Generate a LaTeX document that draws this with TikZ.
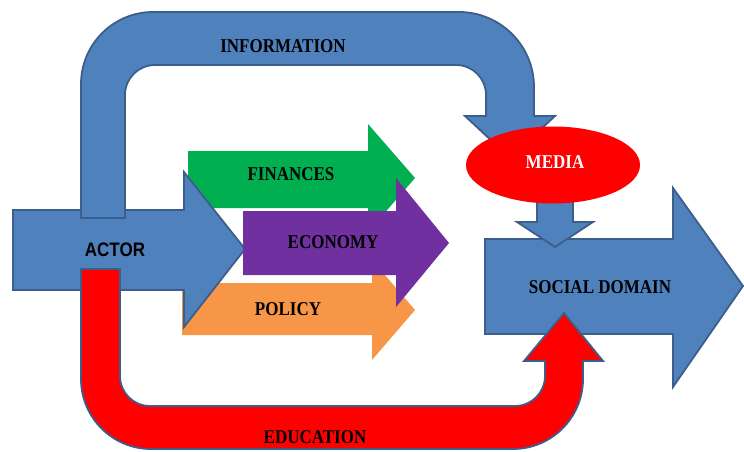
\documentclass[tikz,border=0pt]{standalone}
\usepackage{fontspec}
\setmainfont{Liberation Serif}
\newfontfamily\arialf{Liberation Sans}
\usetikzlibrary{shapes.geometric}
\definecolor{ofblue}{HTML}{4F81BD}
\definecolor{ofline}{HTML}{3B5E8C}
\definecolor{ofgreen}{HTML}{00B050}
\definecolor{ofpurple}{HTML}{7030A0}
\definecolor{oforange}{HTML}{F79646}
\definecolor{ofred}{HTML}{FF0000}
\newcommand{\stx}[1]{\scalebox{1}[1.15]{#1}}
\tikzset{
  bluearrow/.style={fill=ofblue, draw=ofline, line width=1.8pt, line join=miter},
  redarrow/.style={fill=ofred, draw=ofline, line width=1.8pt, line join=miter},
  lbl/.style={font=\bfseries\fontsize{17}{20}\selectfont, inner sep=0pt, text=black},
}
\begin{document}
\begin{tikzpicture}[x=1pt, y=-1pt]
\useasboundingbox (0,0) rectangle (744,452);
% finances (green)
\fill[ofgreen] (188,151) -- (368,151) -- (368,124) -- (415,178) -- (368,232) -- (368,208) -- (188,208) -- cycle;
% policy (orange)
\fill[oforange] (182,283) -- (372,283) -- (372,260) -- (415,310) -- (372,360) -- (372,335) -- (182,335) -- cycle;
% actor (blue)
\draw[bluearrow] (13,210) -- (184,210) -- (184,172) -- (245,249) -- (184,327) -- (184,290) -- (13,290) -- cycle;
% economy (purple)
\fill[ofpurple] (243,211) -- (396,211) -- (396,178) -- (449,243) -- (396,307) -- (396,275) -- (243,275) -- cycle;
% information (bent blue arrow)
\draw[bluearrow] (81,218) -- (81,84) .. controls (81,44.3) and (113.3,12) .. (153,12)
  -- (459,12) .. controls (500.4,12) and (534,45.6) .. (534,87)
  -- (534,116) -- (555,116) -- (510,158) -- (465,116) -- (486,116)
  -- (486,95) .. controls (486,78.4) and (472.6,65) .. (456,65)
  -- (155,65) .. controls (138.4,65) and (125,78.4) .. (125,95)
  -- (125,218) -- cycle;
% social domain (blue)
\draw[bluearrow] (485,239) -- (673,239) -- (673,188) -- (743,286) -- (673,387) -- (673,334) -- (485,334) -- cycle;
% education (bent red arrow)
\draw[redarrow] (81,269) -- (81,379) .. controls (81,417.6) and (112.4,449) .. (151,449)
  -- (513,449) .. controls (551.6,449) and (583,417.6) .. (583,379)
  -- (583,361) -- (603,361) -- (564,313) -- (524,361) -- (545,361)
  -- (545,376) .. controls (545,392.6) and (531.6,406) .. (515,406)
  -- (150,406) .. controls (133.4,406) and (120,392.6) .. (120,376)
  -- (120,269) -- cycle;
% media down arrow
\draw[bluearrow] (537,200) -- (573,200) -- (573,222) -- (593,222) -- (555,247) -- (517,222) -- (537,222) -- cycle;
% media ellipse
\node[ellipse, fill=ofred, minimum width=174pt, minimum height=77pt, inner sep=0pt] (media) at (553,165) {};
% labels
\node[lbl] (information) at (283,46) {\stx{INFORMATION}};
\node[lbl] (finances) at (291,174) {\stx{FINANCES}};
\node[lbl] (economy) at (333,242) {\stx{ECONOMY}};
\node[lbl] (policy) at (288,309) {\stx{POLICY}};
\node[lbl, text=white] (medialbl) at (555,162) {\stx{MEDIA}};
\node[lbl] (social) at (600,287) {\stx{SOCIAL DOMAIN}};
\node[lbl] (education) at (315,437) {\stx{EDUCATION}};
\node[lbl, font=\arialf\bfseries\fontsize{17}{20}\selectfont] (actor) at (115,250) {\stx{ACTOR}};
\end{tikzpicture}
\end{document}
